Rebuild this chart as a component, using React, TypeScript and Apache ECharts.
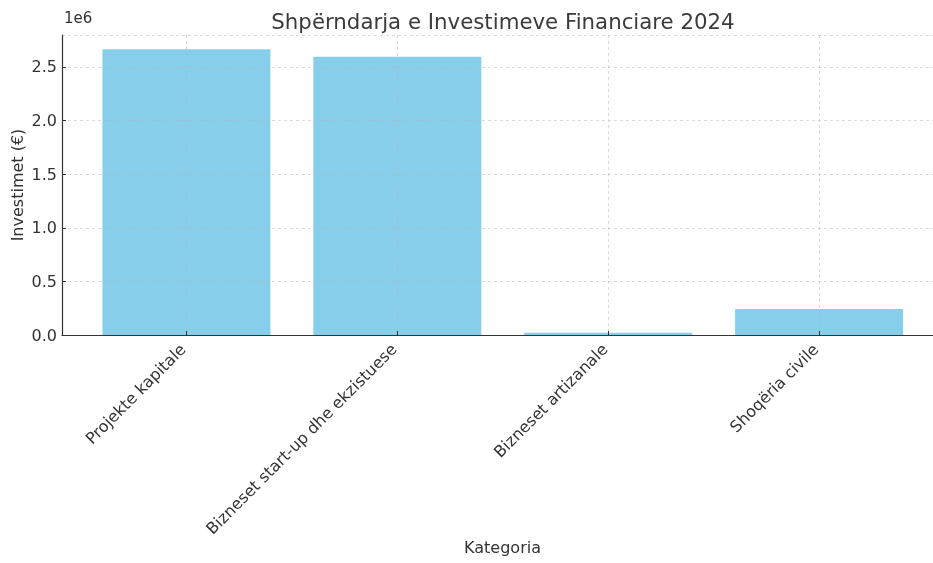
import React, { useEffect, useRef } from "react";
import * as echarts from "echarts";

const categories = ["Projekte kapitale", "Bizneset start-up dhe ekzistuese", "Bizneset artizanale", "Shoqëria civile"];
const investments = [2665000, 2595000, 22000, 242000];
const yTicks = [0, 500000, 1000000, 1500000, 2000000, 2500000];

const FONT = "DejaVu Sans";
const GRID_LINE = { type: [3, 3], color: "#b0b0b0", opacity: 0.6, width: 0.8 };

export default function App() {
  const ref = useRef<HTMLDivElement>(null);
  useEffect(() => {
    if (!ref.current) return;
    const chart = echarts.init(ref.current, undefined, { renderer: "svg" });
    const positions = categories.map((_, i) => i);
    chart.setOption({
      animation: false,
      textStyle: { fontFamily: FONT },
      title: {
        text: "Shpërndarja e Investimeve Financiare 2024",
        left: 498,
        textAlign: "center",
        top: 6,
        textStyle: { fontFamily: FONT, fontSize: 21.3, fontWeight: "normal", color: "#3b3b3b" },
      },
      graphic: [
        {
          type: "text",
          left: 64,
          top: 10,
          style: { text: "1e6", fontFamily: FONT, fontSize: 15, fill: "#333" },
        },
      ],
      grid: { left: 62, right: 0, top: 35, bottom: 228, containLabel: false, outerBoundsMode: "none" },
      xAxis: {
        type: "value",
        z: 3,
        min: -0.59,
        max: 3.54,
        name: "Kategoria",
        nameLocation: "middle",
        nameGap: 204,
        nameMoveOverlap: false,
        nameTextStyle: { fontFamily: FONT, fontSize: 16, color: "#333", padding: [0, 0, 0, 10] },
        axisLine: { show: true, onZero: false, lineStyle: { color: "#333", width: 1.2 } },
        axisTick: { show: true, inside: true, length: 4, customValues: positions, lineStyle: { color: "#333" } },
        axisLabel: {
          customValues: positions,
          rotate: 45,
          fontFamily: FONT,
          fontSize: 16,
          color: "#333",
          margin: 8,
          padding: [0, 5, 0, 0],
          formatter: (v: number) => categories[Math.round(v)] ?? "",
        },
        splitLine: { show: true, lineStyle: GRID_LINE },
      },
      yAxis: {
        type: "value",
        z: 3,
        min: 0,
        max: 2798000,
        interval: 500000,
        name: "Investimet (€)",
        nameLocation: "middle",
        nameGap: 37,
        nameMoveOverlap: false,
        nameTextStyle: { fontFamily: FONT, fontSize: 16, color: "#333" },
        axisLine: { show: true, onZero: false, lineStyle: { color: "#333", width: 1.2 } },
        axisTick: { show: true, inside: true, length: 4, lineStyle: { color: "#333" } },
        axisLabel: {
          fontFamily: FONT,
          fontSize: 16,
          color: "#333",
          margin: 5,
          showMaxLabel: false,
          formatter: (v: number) => (yTicks.includes(v) ? (v / 1e6).toFixed(1) : ""),
        },
        splitLine: { show: true, lineStyle: GRID_LINE },
      },
      series: [
        {
          type: "bar",
          z: 2,
          data: investments.map((v, i) => [i, v]),
          barWidth: 168,
          itemStyle: { color: "#87CEEB" },
        },
      ],
    });
    return () => chart.dispose();
  }, []);
  return (
    <div style={{ position: "fixed", left: 0, top: 0, width: 933, height: 563 }}>
      <div ref={ref} style={{ width: 933, height: 563 }} />
    </div>
  );
}
